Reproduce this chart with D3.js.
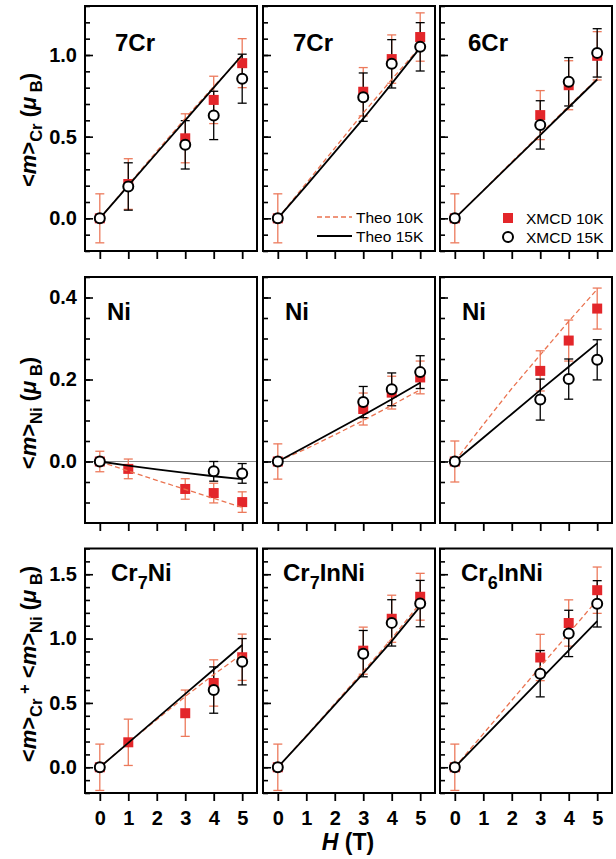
<!DOCTYPE html>
<html lang="en">
<head>
<meta charset="utf-8">
<title>Cr7Ni moments vs field</title>
<script src="https://d3js.org/d3.v7.min.js"></script>
<style>
  body { margin: 0; background: white; }
  svg { display: block; font-family: "Liberation Sans", Arial, Helvetica, sans-serif; }
  .ticklab { font-size: 20px; font-weight: bold; fill: black; }
  .title { font-size: 24px; font-weight: bold; }
  .ylab { font-size: 22px; font-weight: bold; }
  .legend { font-size: 15.5px; }
</style>
</head>
<body>
<svg></svg>
<script>
// ---- data ----
const panelTitles = ["7Cr", "7Cr", "6Cr", "Ni", "Ni", "Ni", "Cr_7Ni", "Cr_7InNi", "Cr_6InNi"];

const fieldSets = [
  [0, 1, 3, 4, 5], [0, 3, 4, 5], [0, 3, 4, 5],
  [0, 1, 3, 4, 5], [0, 3, 4, 5], [0, 3, 4, 5],
  [0, 1, 3, 4, 5], [0, 3, 4, 5], [0, 3, 4, 5]
];

const xmcd10K = [
  [0, 0.21, 0.49, 0.725, 0.95], [0, 0.775, 0.975, 1.11], [0, 0.632, 0.815, 0.995],
  [0, -0.018, -0.067, -0.077, -0.099], [0, 0.128, 0.168, 0.205], [0, 0.221, 0.295, 0.373],
  [0, 0.194, 0.42, 0.655, 0.855], [0, 0.906, 1.154, 1.325], [0, 0.853, 1.121, 1.376]
];
const err10K = [
  [0.15, 0.155, 0.15, 0.145, 0.15], [0.15, 0.148, 0.148, 0.148], [0.15, 0.15, 0.15, 0.148],
  [0.025, 0.024, 0.025, 0.024, 0.025], [0.043, 0.039, 0.04, 0.04], [0.05, 0.049, 0.05, 0.05],
  [0.18, 0.18, 0.18, 0.18, 0.18], [0.18, 0.183, 0.183, 0.182], [0.18, 0.18, 0.18, 0.18]
];
const xmcd15K = [
  [0, 0.195, 0.45, 0.63, 0.855], [0, 0.742, 0.946, 1.05], [0, 0.572, 0.836, 1.013],
  [0, null, null, -0.024, -0.029], [0, 0.145, 0.176, 0.218], [0, 0.151, 0.201, 0.248],
  [0, null, null, 0.6, 0.82], [0, 0.883, 1.122, 1.272], [0, 0.727, 1.04, 1.27]
];
const err15K = [
  [null, 0.145, 0.148, 0.148, 0.15], [null, 0.148, 0.148, 0.148], [null, 0.148, 0.148, 0.148],
  [null, null, null, 0.024, 0.024], [null, 0.038, 0.04, 0.04], [null, 0.05, 0.049, 0.049],
  [null, null, null, 0.18, 0.18], [null, 0.18, 0.18, 0.18], [null, 0.18, 0.18, 0.18]
];

const theoField = [0, 1, 2, 3, 4, 5];
const theo10K = [
  [0, 0.205, 0.41, 0.612, 0.808, 0.99], [0, 0.215, 0.43, 0.645, 0.85, 1.05], [0, 0.172, 0.345, 0.515, 0.686, 0.855],
  [0, -0.023, -0.046, -0.068, -0.09, -0.112], [0, 0.031, 0.065, 0.1, 0.137, 0.175], [0, 0.09, 0.178, 0.26, 0.342, 0.42],
  [0, 0.19, 0.37, 0.55, 0.72, 0.88], [0, 0.245, 0.495, 0.745, 1.0, 1.275], [0, 0.26, 0.52, 0.78, 1.04, 1.3]
];
const theo15K = [
  [0, 0.2, 0.4, 0.6, 0.8, 1.0], [0, 0.2, 0.405, 0.61, 0.825, 1.045], [0, 0.17, 0.34, 0.51, 0.68, 0.85],
  [0, -0.01, -0.019, -0.028, -0.036, -0.043], [0, 0.037, 0.075, 0.113, 0.152, 0.192], [0, 0.058, 0.116, 0.174, 0.231, 0.288],
  [0, 0.19, 0.38, 0.57, 0.76, 0.95], [0, 0.24, 0.485, 0.73, 0.98, 1.25], [0, 0.227, 0.454, 0.681, 0.908, 1.135]
];

const rowDomains = [[-0.2, 1.3], [-0.15, 0.45], [-0.2, 1.7]];
const rowMajor = [[0, 0.5, 1.0], [0, 0.2, 0.4], [0, 0.5, 1.0, 1.5]];
const rowMinorStep = [0.1, 0.05, 0.1];
const xTicks = [0, 1, 2, 3, 4, 5];

// ---- layout ----
const W = 616, Hgt = 859;
const colLeft = [85, 263, 440], panelW = 172;
const rowTop = [6, 277, 548.5], rowBottom = [251, 523, 793];
const titleAt = [[30, 45], [30, 45], [28, 45], [22, 43], [22, 43], [22, 43], [26, 32], [20, 32], [21, 32]];

const red = "#e3262a", redErr = "#ec7a5c", redLine = "#ea7350";

const svg = d3.select("svg").attr("width", W).attr("height", Hgt);
svg.append("rect").attr("width", W).attr("height", Hgt).attr("fill", "white");

// text with italic / sub / sup pieces
function rich(sel, parts, subShift) {
  let shift = 0;
  parts.forEach(([t, s]) => {
    const target = s === "sub" ? subShift : s === "sup" ? -subShift : 0;
    const ts = sel.append("tspan").text(t).attr("dy", target - shift);
    if (s === "i") ts.attr("font-style", "italic");
    if (s === "sub" || s === "sup") ts.attr("font-size", "0.75em");
    shift = target;
  });
}

panelTitles.forEach((title, i) => {
  const row = Math.floor(i / 3), col = i % 3;
  const h = rowBottom[row] - rowTop[row];
  const x = d3.scaleLinear().domain([-0.52, 5.52]).range([0, panelW]);
  const y = d3.scaleLinear().domain(rowDomains[row]).range([h, 0]);

  const g = svg.append("g").attr("transform", `translate(${colLeft[col]},${rowTop[row]})`);

  if (row === 1) {
    g.append("line").attr("x1", 0).attr("x2", panelW)
      .attr("y1", y(0)).attr("y2", y(0))
      .attr("stroke", "#888").attr("stroke-width", 1);
  }

  // y ticks, pointing inward
  const minor = d3.range(Math.ceil(rowDomains[row][0] / rowMinorStep[row]),
    Math.floor(rowDomains[row][1] / rowMinorStep[row]) + 1).map(k => +(k * rowMinorStep[row]).toFixed(3));
  const yMinor = g.append("g").call(d3.axisLeft(y).tickValues(minor).tickSize(-5).tickFormat(""));
  const yMajor = g.append("g").call(d3.axisLeft(y).tickValues(rowMajor[row]).tickSizeInner(-8).tickSizeOuter(0)
    .tickPadding(8).tickFormat(col === 0 ? d3.format(".1f") : ""));
  [yMinor, yMajor].forEach(a => {
    a.select(".domain").remove();
    a.selectAll("line").attr("stroke-width", 1.6);
    a.selectAll("text").attr("class", "ticklab").attr("font-family", null).attr("font-size", null);
  });

  // x ticks, pointing outward
  const xAx = g.append("g").attr("transform", `translate(0,${h})`)
    .call(d3.axisBottom(x).tickValues(xTicks).tickSizeInner(8).tickSizeOuter(0)
      .tickPadding(10).tickFormat(row === 2 ? d3.format("d") : ""));
  xAx.select(".domain").remove();
  xAx.selectAll("line").attr("stroke-width", 1.8);
  xAx.selectAll("text").attr("class", "ticklab").attr("font-family", null).attr("font-size", null);

  const fields = fieldSets[i];
  const pts10 = fields.map((f, k) => ({ f, v: xmcd10K[i][k], e: err10K[i][k] }));
  const pts15 = fields.map((f, k) => ({ f, v: xmcd15K[i][k], e: err15K[i][k] })).filter(d => d.v !== null);

  function errBars(data, color, width) {
    const eb = g.append("g").attr("stroke", color).attr("stroke-width", width);
    const withErr = data.filter(d => d.e !== null);
    eb.selectAll(".v").data(withErr).join("line")
      .attr("x1", d => x(d.f)).attr("x2", d => x(d.f))
      .attr("y1", d => y(d.v - d.e)).attr("y2", d => y(d.v + d.e));
    [1, -1].forEach(sg => {
      eb.selectAll(".c" + sg).data(withErr).join("line")
        .attr("x1", d => x(d.f) - 4.5).attr("x2", d => x(d.f) + 4.5)
        .attr("y1", d => y(d.v + sg * d.e)).attr("y2", d => y(d.v + sg * d.e));
    });
  }
  errBars(pts10, redErr, 1.3);
  errBars(pts15, "black", 1.3);

  g.selectAll(".sq").data(pts10).join("rect")
    .attr("x", d => x(d.f) - 5).attr("y", d => y(d.v) - 5)
    .attr("width", 10).attr("height", 10).attr("fill", red);

  const line = vals => d3.line().x((d, k) => x(theoField[k])).y(d => y(d))(vals);
  g.append("path").attr("d", line(theo10K[i])).attr("fill", "none")
    .attr("stroke", redLine).attr("stroke-width", 1.3).attr("stroke-dasharray", "5,3");
  g.append("path").attr("d", line(theo15K[i])).attr("fill", "none")
    .attr("stroke", "black").attr("stroke-width", 1.8);

  g.selectAll(".ci").data(pts15).join("circle")
    .attr("cx", d => x(d.f)).attr("cy", d => y(d.v)).attr("r", 5)
    .attr("fill", "white").attr("stroke", "black").attr("stroke-width", 2);

  // frame
  g.append("rect").attr("width", panelW).attr("height", h)
    .attr("fill", "none").attr("stroke", "black").attr("stroke-width", 2);

  // panel title
  const parts = title.split(/_(\d)/).map((t, k) => [t, k % 2 ? "sub" : ""]).filter(p => p[0]);
  rich(g.append("text").attr("class", "title").attr("x", titleAt[i][0]).attr("y", titleAt[i][1]), parts, 8);

  // legends
  if (i === 1) {
    const lg = g.append("g").attr("class", "legend");
    [["Theo 10K", redLine, "5,3", 1.3, 211], ["Theo 15K", "black", null, 1.8, 230]].forEach(([lab, c, dash, sw, ly]) => {
      lg.append("line").attr("x1", 54).attr("x2", 89).attr("y1", ly).attr("y2", ly)
        .attr("stroke", c).attr("stroke-width", sw).attr("stroke-dasharray", dash);
      lg.append("text").attr("x", 93).attr("y", ly + 5.5).text(lab);
    });
  }
  if (i === 2) {
    const lg = g.append("g").attr("class", "legend");
    lg.append("rect").attr("x", 63).attr("y", 207).attr("width", 10).attr("height", 10).attr("fill", red);
    lg.append("text").attr("x", 86).attr("y", 217.5).text("XMCD 10K");
    lg.append("circle").attr("cx", 68).attr("cy", 231).attr("r", 5)
      .attr("fill", "white").attr("stroke", "black").attr("stroke-width", 2);
    lg.append("text").attr("x", 86).attr("y", 236.5).text("XMCD 15K");
  }
});

// axis titles
const yTitles = [
  [["<", ""], ["m", "i"], [">", ""], ["Cr", "sub"], [" (", ""], ["\u03bc", "i"], [" B", "sub"], [")", ""]],
  [["<", ""], ["m", "i"], [">", ""], ["Ni", "sub"], [" (", ""], ["\u03bc", "i"], [" B", "sub"], [")", ""]],
  [["<", ""], ["m", "i"], [">", ""], ["Cr", "sub"], [" +", "sup"], [" <", ""], ["m", "i"], [">", ""], ["Ni", "sub"], [" (", ""], ["\u03bc", "i"], [" B", "sub"], [")", ""]]
];
const yTitleCenter = [130, 413, 664];
yTitles.forEach((parts, r) => {
  const t = svg.append("text").attr("class", "ylab").attr("text-anchor", "middle")
    .attr("transform", `translate(36,${yTitleCenter[r]}) rotate(-90)`);
  rich(t, parts, 6);
});

const xt = svg.append("text").attr("class", "ylab").attr("text-anchor", "middle")
  .attr("x", 348).attr("y", 850).style("font-size", "23px");
rich(xt, [["H", "i"], [" (T)", ""]], 0);
</script>
</body>
</html>
